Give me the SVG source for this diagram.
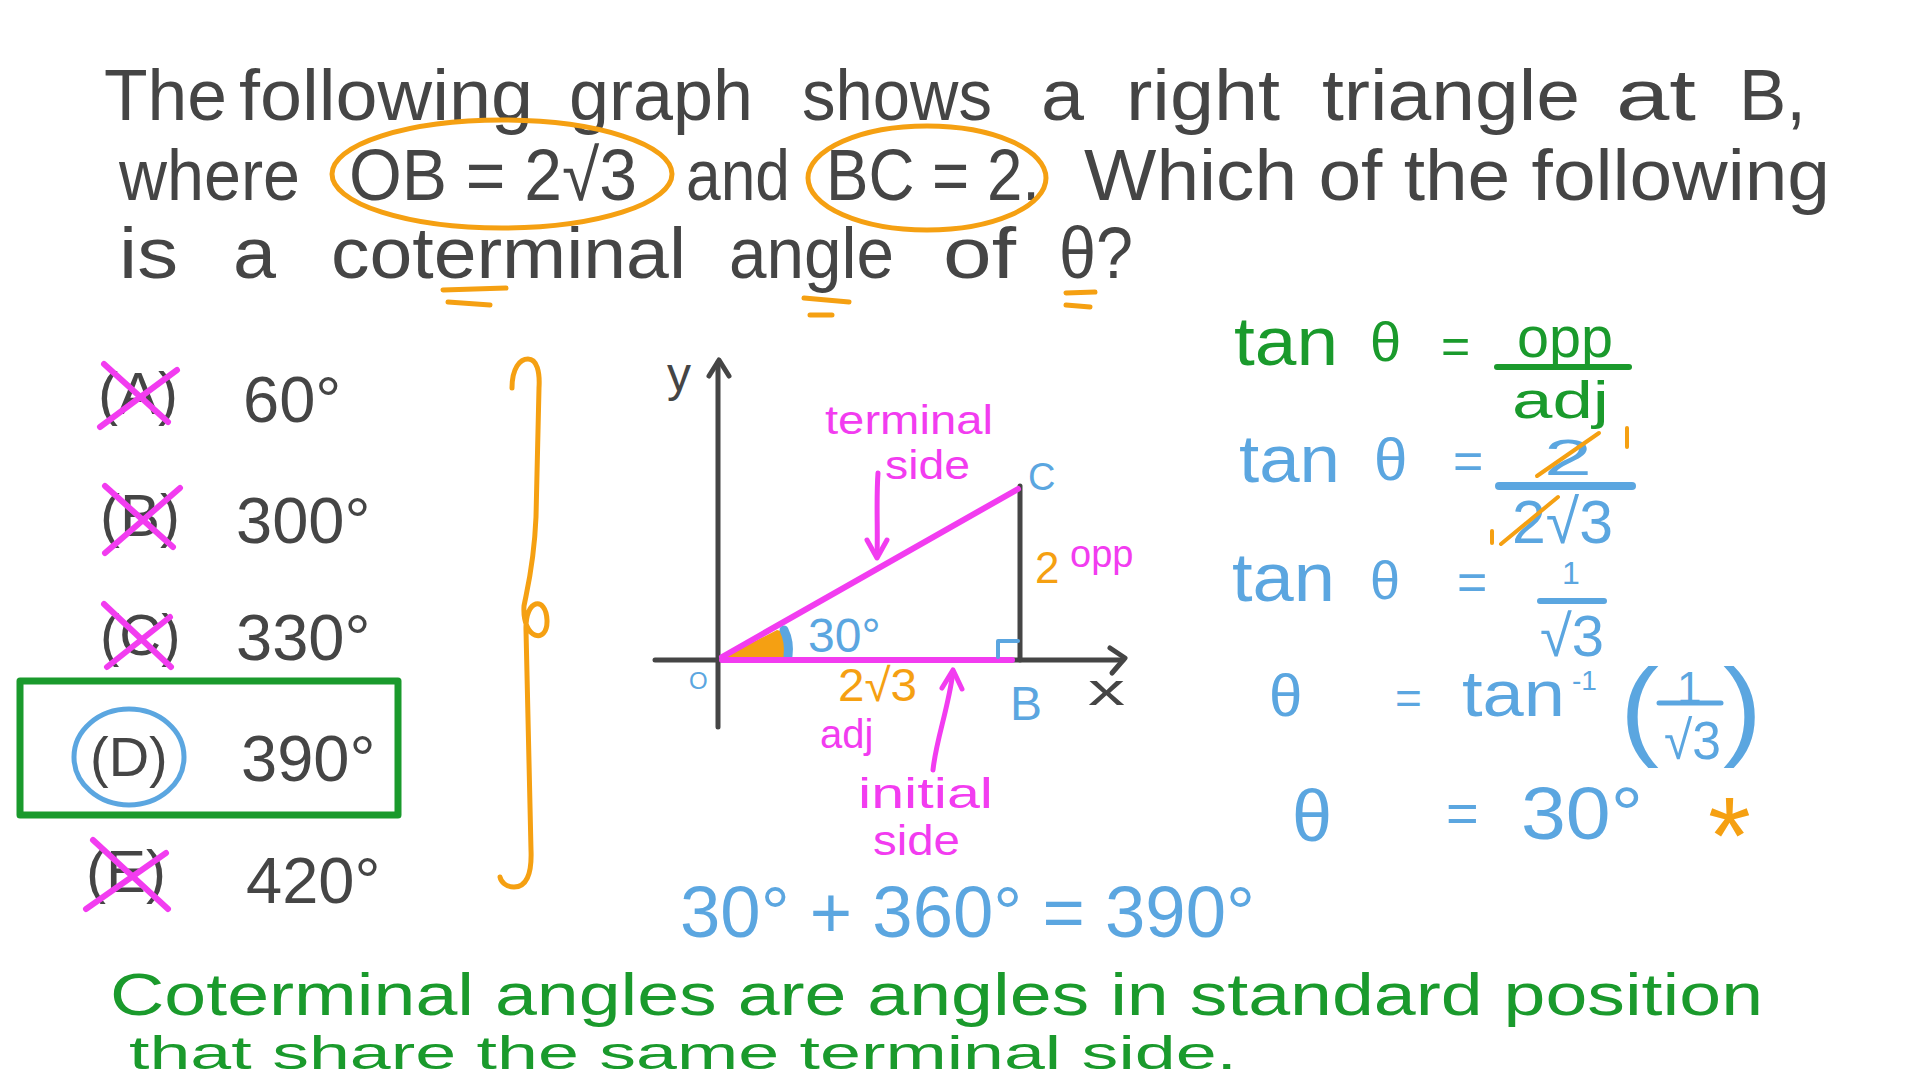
<svg xmlns="http://www.w3.org/2000/svg" width="1920" height="1080" viewBox="0 0 1920 1080">
<style>
text{font-family:"Liberation Sans","DejaVu Sans",sans-serif}
.gray{fill:#454545}
.blue{fill:#5ba6e0}
.green{fill:#1a9a2c}
.org{fill:#f5a012}
.mag{fill:#f23cf0}
.sk{fill:none;stroke-linecap:round;stroke-linejoin:round}
.sg{stroke:#454545}
.sb{stroke:#5ba6e0}
.sgr{stroke:#1a9a2c}
.so{stroke:#f5a012}
.sm{stroke:#f23cf0}
</style>
<rect width="1920" height="1080" fill="#ffffff"/>

<g id="question" class="gray" font-size="72">
<text x="104" y="120" textLength="123" lengthAdjust="spacingAndGlyphs">The</text>
<text x="239" y="120" textLength="294" lengthAdjust="spacingAndGlyphs">following</text>
<text x="569" y="120" textLength="184" lengthAdjust="spacingAndGlyphs">graph</text>
<text x="802" y="120" textLength="190" lengthAdjust="spacingAndGlyphs">shows</text>
<text x="1041" y="120" textLength="43" lengthAdjust="spacingAndGlyphs">a</text>
<text x="1126" y="120" textLength="154" lengthAdjust="spacingAndGlyphs">right</text>
<text x="1322" y="120" textLength="258" lengthAdjust="spacingAndGlyphs">triangle</text>
<text x="1616" y="120" textLength="80" lengthAdjust="spacingAndGlyphs">at</text>
<text x="1739" y="120" textLength="67" lengthAdjust="spacingAndGlyphs">B,</text>
<text x="119" y="200" textLength="181" lengthAdjust="spacingAndGlyphs">where</text>
<text x="349" y="200" textLength="288" lengthAdjust="spacingAndGlyphs">OB = 2√3</text>
<text x="686" y="200" textLength="104" lengthAdjust="spacingAndGlyphs">and</text>
<text x="826" y="200" textLength="214" lengthAdjust="spacingAndGlyphs">BC = 2.</text>
<text x="1084" y="200" textLength="746" lengthAdjust="spacingAndGlyphs">Which of the following</text>
<text x="119" y="278" textLength="59" lengthAdjust="spacingAndGlyphs">is</text>
<text x="233" y="278" textLength="43" lengthAdjust="spacingAndGlyphs">a</text>
<text x="331" y="278" textLength="355" lengthAdjust="spacingAndGlyphs">coterminal</text>
<text x="729" y="278" textLength="165" lengthAdjust="spacingAndGlyphs">angle</text>
<text x="943" y="278" textLength="73" lengthAdjust="spacingAndGlyphs">of</text>
<text x="1059" y="278" textLength="74" lengthAdjust="spacingAndGlyphs">θ?</text>
</g>
<g id="question-marks" class="sk so" stroke-width="5">
<ellipse cx="502" cy="174" rx="170" ry="54"/>
<ellipse cx="927" cy="178" rx="119" ry="52"/>
<path d="M443,290 L506,288 M448,302 L490,305"/>
<path d="M804,298 L849,302 M810,315 L832,315"/>
<path d="M1066,293 L1095,292 M1066,305 L1090,307"/>
</g>

<g id="optionA">
<text class="gray" x="98" y="414" font-size="60">(A)</text>
<text class="gray" x="243" y="422" font-size="65">60°</text>
<path class="sk sm" stroke-width="6" d="M100,427 L177,370 M104,364 L168,422"/>
</g>
<g id="optionB">
<text class="gray" x="100" y="536" font-size="60">(B)</text>
<text class="gray" x="236" y="543" font-size="65">300°</text>
<path class="sk sm" stroke-width="6" d="M105,553 L180,488 M105,486 L173,547"/>
</g>
<g id="optionC">
<text class="gray" x="100" y="655" font-size="58">(C)</text>
<text class="gray" x="236" y="660" font-size="65">330°</text>
<path class="sk sm" stroke-width="6" d="M107,667 L170,617 M104,604 L171,667"/>
</g>
<g id="optionD">
<rect class="sk sgr" stroke-width="7" x="20" y="681" width="378" height="134"/>
<ellipse class="sk sb" stroke-width="5" cx="129" cy="757" rx="55" ry="48"/>
<text class="gray" x="90" y="776" font-size="56">(D)</text>
<text class="gray" x="241" y="781" font-size="65">390°</text>
</g>
<g id="optionE">
<text class="gray" x="86" y="892" font-size="60">(E)</text>
<text class="gray" x="246" y="903" font-size="65">420°</text>
<path class="sk sm" stroke-width="6" d="M86,909 L166,853 M93,840 L168,909"/>
</g>
<g id="brace">
<path class="sk so" stroke-width="5" d="M512,388 C512,368 520,359 528,359 C537,359 540,372 539,388 L536,517 C534,565 527,590 524,606 C522,640 548,645 547,620 C546,596 525,598 526,630 L531,850 C532,875 526,887 514,887 C506,887 501,882 500,877"/>
</g>

<g id="graph">
<g id="axes" class="sk sg" stroke-width="5">
<path d="M718,727 L718,362"/>
<path d="M709,376 L719,360 L729,376"/>
<path d="M655,660 L1123,660"/>
<path d="M1110,648 L1125,658 L1112,673"/>
<path d="M1020,486 L1020,660"/>
</g>
<text class="gray" x="667" y="391" font-size="48">y</text>
<text class="gray" x="1088" y="705" font-size="44" textLength="37" lengthAdjust="spacingAndGlyphs">x</text>
<path class="org" d="M722,658 L777,630 L788,633 L789,657 Z"/>
<path class="sk sb" stroke-width="9" d="M784,630 C788,638 789,648 788,656"/>
<g class="sk sm" stroke-width="6">
<path d="M722,657 L1018,489"/>
<path d="M722,660 L1012,660"/>
</g>
<path class="sk sb" stroke-width="4" d="M998,657 L998,641 L1018,641"/>
<text class="blue" x="689" y="689" font-size="24">O</text>
<text class="blue" x="1028" y="490" font-size="38">C</text>
<text class="blue" x="1010" y="720" font-size="48">B</text>
<text class="blue" x="808" y="652" font-size="48">30°</text>
<text class="org" x="838" y="701" font-size="46" textLength="79" lengthAdjust="spacingAndGlyphs">2√3</text>
<text class="mag" x="820" y="748" font-size="40">adj</text>
<text class="org" x="1035" y="583" font-size="44">2</text>
<text class="mag" x="1070" y="567" font-size="38">opp</text>
<text class="mag" x="825" y="434" font-size="40" textLength="168" lengthAdjust="spacingAndGlyphs">terminal</text>
<text class="mag" x="885" y="479" font-size="40" textLength="85" lengthAdjust="spacingAndGlyphs">side</text>
<text class="mag" x="858" y="808" font-size="42" textLength="135" lengthAdjust="spacingAndGlyphs">initial</text>
<text class="mag" x="873" y="855" font-size="42" textLength="87" lengthAdjust="spacingAndGlyphs">side</text>
<g class="sk sm" stroke-width="5">
<path d="M878,473 C876,500 878,530 877,557"/>
<path d="M867,540 L877,558 L887,540"/>
<path d="M933,770 C936,740 948,710 953,672"/>
<path d="M942,688 L953,670 L962,689"/>
</g>
</g>

<g id="working">
<g class="green">
<text x="1234" y="365" font-size="68" textLength="104" lengthAdjust="spacingAndGlyphs">tan</text>
<text x="1370" y="361" font-size="56">θ</text>
<text x="1441" y="363" font-size="50">=</text>
<text x="1517" y="357" font-size="58" textLength="96" lengthAdjust="spacingAndGlyphs">opp</text>
<text x="1512" y="418" font-size="52" textLength="97" lengthAdjust="spacingAndGlyphs">adj</text>
</g>
<path class="sk sgr" stroke-width="6" d="M1497,367 L1629,367"/>
<g class="blue">
<text x="1239" y="482" font-size="66" textLength="101" lengthAdjust="spacingAndGlyphs">tan</text>
<text x="1374" y="480" font-size="60">θ</text>
<text x="1453" y="479" font-size="52">=</text>
<text x="1544" y="475" font-size="50" textLength="48" lengthAdjust="spacingAndGlyphs">2</text>
<text x="1512" y="543" font-size="62" textLength="101" lengthAdjust="spacingAndGlyphs">2√3</text>
<text x="1232" y="601" font-size="68" textLength="103" lengthAdjust="spacingAndGlyphs">tan</text>
<text x="1370" y="599" font-size="54">θ</text>
<text x="1457" y="600" font-size="52">=</text>
<text x="1562" y="584" font-size="32">1</text>
<text x="1540" y="656" font-size="58" textLength="64" lengthAdjust="spacingAndGlyphs">√3</text>
<text x="1269" y="716" font-size="60">θ</text>
<text x="1395" y="714" font-size="46">=</text>
<text x="1462" y="716" font-size="64" textLength="103" lengthAdjust="spacingAndGlyphs">tan</text>
<text x="1572" y="690" font-size="28">-1</text>
<text x="1620" y="745" font-size="110" textLength="39" lengthAdjust="spacingAndGlyphs">(</text>
<text x="1677" y="703" font-size="44">1</text>
<text x="1664" y="759" font-size="54" textLength="57" lengthAdjust="spacingAndGlyphs">√3</text>
<text x="1723" y="745" font-size="110" textLength="39" lengthAdjust="spacingAndGlyphs">)</text>
<text x="1292" y="841" font-size="72">θ</text>
<text x="1446" y="832" font-size="56">=</text>
<text x="1521" y="839" font-size="74" textLength="122" lengthAdjust="spacingAndGlyphs">30°</text>
</g>
<g class="sk sb">
<path stroke-width="8" d="M1499,486 L1632,486"/>
<path stroke-width="6" d="M1540,601 L1604,601"/>
<path stroke-width="5" d="M1659,703 L1721,703"/>
</g>
<g class="sk so" stroke-width="4">
<path d="M1537,476 L1599,433"/>
<path d="M1627,428 L1627,447"/>
<path d="M1501,544 L1558,497"/>
<path d="M1492,531 L1492,543"/>
</g>
<text class="org" x="1708" y="873" font-size="110">*</text>
</g>

<g id="conclusion">
<text class="blue" x="680" y="937" font-size="72" textLength="575" lengthAdjust="spacingAndGlyphs">30° + 360° = 390°</text>
<text class="green" x="110" y="1015" font-size="60" textLength="1653" lengthAdjust="spacingAndGlyphs">Coterminal angles are angles in standard position</text>
<text class="green" x="129" y="1069" font-size="46" textLength="1108" lengthAdjust="spacingAndGlyphs">that share the same terminal side.</text>
</g>
</svg>
